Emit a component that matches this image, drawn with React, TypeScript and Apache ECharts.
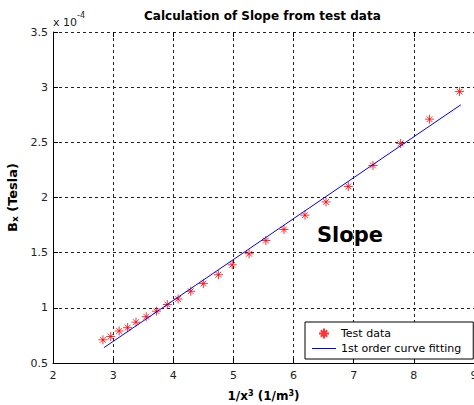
import React, { useEffect, useRef } from 'react';
import * as echarts from 'echarts';

const titleText = 'Calculation of Slope from test data';
const seriesNames = ['Test data', '1st order curve fitting'];
const annotationText = 'Slope';
const exponentBase = 'x 10';
const exponentPower = '-4';

// 1/x^3 values
const testX = [2.83, 2.96, 3.1, 3.24, 3.38, 3.55, 3.72, 3.9, 4.08, 4.29, 4.5, 4.75, 4.98, 5.26, 5.54, 5.84, 6.19, 6.54, 6.91, 7.32, 7.78, 8.26, 8.76];
// Bx in units of 1e-4 Tesla
const testY = [0.71, 0.74, 0.79, 0.82, 0.87, 0.92, 0.97, 1.03, 1.08, 1.15, 1.22, 1.3, 1.39, 1.49, 1.61, 1.71, 1.84, 1.96, 2.1, 2.29, 2.49, 2.71, 2.96];

// 1st order fit endpoints
const fitX = [2.85, 8.78];
const fitY = [0.64, 2.84];

const FONT = 'DejaVu Sans';
const ASTERISK = 'path://M5,0L5,10M0,5L10,5M1.8,1.8L8.2,8.2M1.8,8.2L8.2,1.8';
const LINE_ICON = 'path://M0,0L24,0L24,1L0,1Z';

export default function App() {
  const ref = useRef<HTMLDivElement>(null);
  useEffect(() => {
    const chart = echarts.init(ref.current as HTMLDivElement, null, { renderer: 'svg' });
    const boldRich = {
      b: { fontFamily: FONT, fontSize: 12, fontWeight: 'bold', color: '#000', lineHeight: 14 },
      p: { fontFamily: FONT, fontSize: 8, fontWeight: 'bold', color: '#000', verticalAlign: 'top', lineHeight: 14 },
      s: { fontFamily: FONT, fontSize: 8, fontWeight: 'bold', color: '#000', verticalAlign: 'bottom', lineHeight: 14 },
    };
    const yRich = {
      b: { fontFamily: FONT, fontSize: 13, fontWeight: 'bold', color: '#000', lineHeight: 15 },
      s: { fontFamily: FONT, fontSize: 9, fontWeight: 'bold', color: '#000', verticalAlign: 'bottom', lineHeight: 15 },
    };
    chart.setOption({
      animation: false,
      backgroundColor: '#ffffff',
      textStyle: { fontFamily: FONT },
      title: {
        text: titleText,
        left: 144,
        top: 10,
        padding: 0,
        textStyle: { fontFamily: FONT, fontSize: 12, fontWeight: 'bold', color: '#000' },
      },
      grid: { left: 53, right: 0, top: 32, bottom: 42, containLabel: false, outerBoundsMode: 'none' },
      legend: {
        orient: 'vertical',
        left: 305,
        top: 322,
        padding: [5, 12, 4, 7],
        itemGap: 2,
        itemWidth: 24,
        itemHeight: 10,
        backgroundColor: '#fff',
        borderColor: '#000',
        borderWidth: 1,
        borderRadius: 0,
        selectedMode: false,
        data: [
          { name: seriesNames[0], icon: ASTERISK },
          { name: seriesNames[1], icon: LINE_ICON, itemStyle: { color: '#0000ff' } },
        ],
        textStyle: { fontFamily: FONT, fontSize: 11, color: '#000', lineHeight: 13 },
      },
      xAxis: [
        {
          type: 'value',
          min: 2,
          max: 9,
          interval: 1,
          position: 'bottom',
          axisLine: { show: true, onZero: false, lineStyle: { color: '#000', width: 1 } },
          axisTick: { show: true, inside: true, length: 5, lineStyle: { color: '#000' } },
          axisLabel: { color: '#222', fontSize: 11, margin: 7, fontFamily: FONT, showMinLabel: true, showMaxLabel: true, hideOverlap: false },
          splitLine: { show: true, lineStyle: { color: '#222', type: [3, 3], width: 1 } },
          name: '{b|1/x}{p|3}{b| (1/m}{p|3}{b|)}',
          nameLocation: 'middle',
          nameGap: 26,
          nameTextStyle: { rich: boldRich },
        },
        {
          type: 'value',
          min: 2,
          max: 9,
          interval: 1,
          position: 'top',
          axisLine: { show: false },
          axisTick: { show: true, inside: true, length: 5, lineStyle: { color: '#000' } },
          axisLabel: { show: false },
          splitLine: { show: false },
        },
      ],
      yAxis: {
        type: 'value',
        min: 0.5,
        max: 3.5,
        interval: 0.5,
        axisLine: { show: true, onZero: false, lineStyle: { color: '#000', width: 1 } },
        axisTick: { show: true, inside: true, length: 5, lineStyle: { color: '#000' } },
        axisLabel: { color: '#222', fontSize: 11, margin: 5, fontFamily: FONT, showMinLabel: true, showMaxLabel: true },
        splitLine: { show: true, lineStyle: { color: '#222', type: [3, 3], width: 1 } },
        name: '{b|B}{s|x}{b| (Tesla)}',
        nameLocation: 'middle',
        nameGap: 18,
        nameTextStyle: { rich: yRich },
      },
      graphic: [
        {
          type: 'text',
          x: 53,
          y: 17,
          style: { text: exponentBase, fontFamily: FONT, fontSize: 11, fill: '#222', align: 'left', verticalAlign: 'top' },
        },
        {
          type: 'text',
          x: 77,
          y: 11,
          style: { text: exponentPower, fontFamily: FONT, fontSize: 8, fill: '#222', align: 'left', verticalAlign: 'top' },
        },
        {
          type: 'text',
          x: 350,
          y: 235,
          z: 10,
          style: { text: annotationText, fontFamily: FONT, fontSize: 21, fontWeight: 'bold', fill: '#000', align: 'center', verticalAlign: 'middle' },
        },
      ],
      series: [
        {
          type: 'scatter',
          name: seriesNames[0],
          data: testX.map((x, i) => [x, testY[i]]),
          symbol: ASTERISK,
          symbolSize: 9,
          itemStyle: { color: '#ff0000', borderColor: '#ff0000', borderWidth: 1 },
          z: 3,
        },
        {
          type: 'line',
          name: seriesNames[1],
          data: fitX.map((x, i) => [x, fitY[i]]),
          showSymbol: false,
          symbol: 'none',
          lineStyle: { color: '#0000ff', width: 1 },
          itemStyle: { color: '#0000ff' },
          z: 4,
        },
      ],
    });
    return () => chart.dispose();
  }, []);
  return <div ref={ref} style={{ position: 'fixed', left: 0, top: 0, width: 474, height: 405, background: '#fff' }} />;
}
